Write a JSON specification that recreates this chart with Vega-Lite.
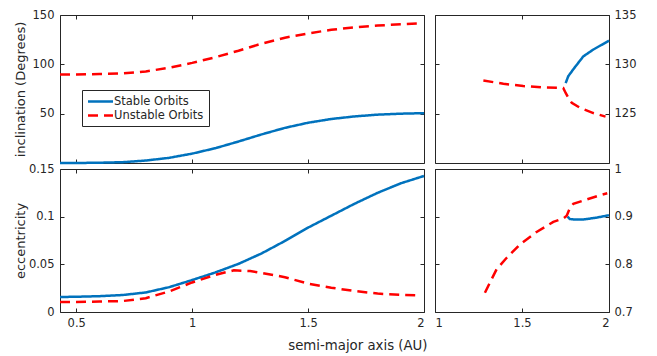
{
  "$schema": "https://vega.github.io/schema/vega-lite/v6.json",
  "padding": {"left": 13, "top": 8, "right": 5, "bottom": 5},
  "background": "white",
  "config": {
    "view": {"stroke": "#262626", "strokeWidth": 1},
    "font": "DejaVu Sans",
    "axis": {
      "grid": false, "domain": false,
      "tickColor": "#262626", "tickSize": -4, "tickWidth": 1,
      "labelFont": "DejaVu Sans", "labelFontSize": 11.5, "labelColor": "#262626",
      "titleFont": "DejaVu Sans", "titleFontSize": 13, "titleFontWeight": "normal", "titleColor": "#262626",
      "labelPadding": 9, "labelExpr": "'' + datum.value"
    }
  },
  "datasets": {
    "d": [
      {"p":"iL","t":"Stable Orbits","a":0.43,"v":0},
      {"p":"iL","t":"Stable Orbits","a":0.5,"v":0},
      {"p":"iL","t":"Stable Orbits","a":0.6,"v":0.3},
      {"p":"iL","t":"Stable Orbits","a":0.7,"v":0.8},
      {"p":"iL","t":"Stable Orbits","a":0.8,"v":2.5},
      {"p":"iL","t":"Stable Orbits","a":0.9,"v":5.2},
      {"p":"iL","t":"Stable Orbits","a":1.0,"v":9.5},
      {"p":"iL","t":"Stable Orbits","a":1.1,"v":15},
      {"p":"iL","t":"Stable Orbits","a":1.2,"v":21.8},
      {"p":"iL","t":"Stable Orbits","a":1.3,"v":29},
      {"p":"iL","t":"Stable Orbits","a":1.4,"v":35.6},
      {"p":"iL","t":"Stable Orbits","a":1.5,"v":40.8},
      {"p":"iL","t":"Stable Orbits","a":1.6,"v":44.6},
      {"p":"iL","t":"Stable Orbits","a":1.7,"v":47.2},
      {"p":"iL","t":"Stable Orbits","a":1.8,"v":49},
      {"p":"iL","t":"Stable Orbits","a":1.9,"v":50},
      {"p":"iL","t":"Stable Orbits","a":2.0,"v":50.5},
      {"p":"iL","t":"Unstable Orbits","a":0.43,"v":89.6},
      {"p":"iL","t":"Unstable Orbits","a":0.5,"v":89.8},
      {"p":"iL","t":"Unstable Orbits","a":0.6,"v":90.2},
      {"p":"iL","t":"Unstable Orbits","a":0.7,"v":90.9},
      {"p":"iL","t":"Unstable Orbits","a":0.8,"v":92.8},
      {"p":"iL","t":"Unstable Orbits","a":0.9,"v":96.5},
      {"p":"iL","t":"Unstable Orbits","a":1.0,"v":101.5},
      {"p":"iL","t":"Unstable Orbits","a":1.1,"v":107.2},
      {"p":"iL","t":"Unstable Orbits","a":1.2,"v":113.8},
      {"p":"iL","t":"Unstable Orbits","a":1.3,"v":121},
      {"p":"iL","t":"Unstable Orbits","a":1.4,"v":127},
      {"p":"iL","t":"Unstable Orbits","a":1.5,"v":131.3},
      {"p":"iL","t":"Unstable Orbits","a":1.6,"v":135},
      {"p":"iL","t":"Unstable Orbits","a":1.7,"v":137.6},
      {"p":"iL","t":"Unstable Orbits","a":1.8,"v":139.3},
      {"p":"iL","t":"Unstable Orbits","a":1.9,"v":140.6},
      {"p":"iL","t":"Unstable Orbits","a":1.98,"v":141.5},

      {"p":"iR","t":"Stable Orbits","a":1.751,"v":128.1},
      {"p":"iR","t":"Stable Orbits","a":1.766,"v":128.8},
      {"p":"iR","t":"Stable Orbits","a":1.795,"v":129.5},
      {"p":"iR","t":"Stable Orbits","a":1.852,"v":130.8},
      {"p":"iR","t":"Stable Orbits","a":1.91,"v":131.5},
      {"p":"iR","t":"Stable Orbits","a":1.95,"v":131.9},
      {"p":"iR","t":"Stable Orbits","a":2.0,"v":132.4},
      {"p":"iR","t":"Unstable Orbits","a":1.278,"v":128.36},
      {"p":"iR","t":"Unstable Orbits","a":1.393,"v":128.03},
      {"p":"iR","t":"Unstable Orbits","a":1.507,"v":127.8},
      {"p":"iR","t":"Unstable Orbits","a":1.622,"v":127.65},
      {"p":"iR","t":"Unstable Orbits","a":1.737,"v":127.6},
      {"p":"iR","t":"Unstable Orbits","a":1.751,"v":127.1},
      {"p":"iR","t":"Unstable Orbits","a":1.77,"v":126.5},
      {"p":"iR","t":"Unstable Orbits","a":1.786,"v":126.1},
      {"p":"iR","t":"Unstable Orbits","a":1.833,"v":125.6},
      {"p":"iR","t":"Unstable Orbits","a":1.91,"v":125.06},
      {"p":"iR","t":"Unstable Orbits","a":1.98,"v":124.7},

      {"p":"eL","t":"Stable Orbits","a":0.43,"v":0.0157},
      {"p":"eL","t":"Stable Orbits","a":0.5,"v":0.016},
      {"p":"eL","t":"Stable Orbits","a":0.6,"v":0.0166},
      {"p":"eL","t":"Stable Orbits","a":0.7,"v":0.0178},
      {"p":"eL","t":"Stable Orbits","a":0.8,"v":0.0205},
      {"p":"eL","t":"Stable Orbits","a":0.9,"v":0.026},
      {"p":"eL","t":"Stable Orbits","a":1.0,"v":0.0335},
      {"p":"eL","t":"Stable Orbits","a":1.1,"v":0.0415},
      {"p":"eL","t":"Stable Orbits","a":1.2,"v":0.0505},
      {"p":"eL","t":"Stable Orbits","a":1.3,"v":0.0615},
      {"p":"eL","t":"Stable Orbits","a":1.4,"v":0.0745},
      {"p":"eL","t":"Stable Orbits","a":1.5,"v":0.0885},
      {"p":"eL","t":"Stable Orbits","a":1.6,"v":0.101},
      {"p":"eL","t":"Stable Orbits","a":1.7,"v":0.1135},
      {"p":"eL","t":"Stable Orbits","a":1.8,"v":0.125},
      {"p":"eL","t":"Stable Orbits","a":1.9,"v":0.135},
      {"p":"eL","t":"Stable Orbits","a":2.0,"v":0.1427},
      {"p":"eL","t":"Unstable Orbits","a":0.43,"v":0.0105},
      {"p":"eL","t":"Unstable Orbits","a":0.5,"v":0.0105},
      {"p":"eL","t":"Unstable Orbits","a":0.6,"v":0.011},
      {"p":"eL","t":"Unstable Orbits","a":0.7,"v":0.0115},
      {"p":"eL","t":"Unstable Orbits","a":0.8,"v":0.0145},
      {"p":"eL","t":"Unstable Orbits","a":0.9,"v":0.0215},
      {"p":"eL","t":"Unstable Orbits","a":1.0,"v":0.031},
      {"p":"eL","t":"Unstable Orbits","a":1.1,"v":0.039},
      {"p":"eL","t":"Unstable Orbits","a":1.18,"v":0.0437},
      {"p":"eL","t":"Unstable Orbits","a":1.25,"v":0.043},
      {"p":"eL","t":"Unstable Orbits","a":1.3,"v":0.041},
      {"p":"eL","t":"Unstable Orbits","a":1.4,"v":0.0365},
      {"p":"eL","t":"Unstable Orbits","a":1.5,"v":0.0297},
      {"p":"eL","t":"Unstable Orbits","a":1.6,"v":0.0255},
      {"p":"eL","t":"Unstable Orbits","a":1.7,"v":0.022},
      {"p":"eL","t":"Unstable Orbits","a":1.8,"v":0.0193},
      {"p":"eL","t":"Unstable Orbits","a":1.9,"v":0.018},
      {"p":"eL","t":"Unstable Orbits","a":1.97,"v":0.0175},

      {"p":"eR","t":"Stable Orbits","a":1.762,"v":0.9},
      {"p":"eR","t":"Stable Orbits","a":1.775,"v":0.895},
      {"p":"eR","t":"Stable Orbits","a":1.8,"v":0.894},
      {"p":"eR","t":"Stable Orbits","a":1.852,"v":0.894},
      {"p":"eR","t":"Stable Orbits","a":1.929,"v":0.898},
      {"p":"eR","t":"Stable Orbits","a":2.0,"v":0.903},
      {"p":"eR","t":"Unstable Orbits","a":1.287,"v":0.7405},
      {"p":"eR","t":"Unstable Orbits","a":1.32,"v":0.765},
      {"p":"eR","t":"Unstable Orbits","a":1.354,"v":0.7895},
      {"p":"eR","t":"Unstable Orbits","a":1.412,"v":0.8138},
      {"p":"eR","t":"Unstable Orbits","a":1.489,"v":0.842},
      {"p":"eR","t":"Unstable Orbits","a":1.584,"v":0.868},
      {"p":"eR","t":"Unstable Orbits","a":1.68,"v":0.889},
      {"p":"eR","t":"Unstable Orbits","a":1.74,"v":0.897},
      {"p":"eR","t":"Unstable Orbits","a":1.757,"v":0.902},
      {"p":"eR","t":"Unstable Orbits","a":1.775,"v":0.918},
      {"p":"eR","t":"Unstable Orbits","a":1.795,"v":0.927},
      {"p":"eR","t":"Unstable Orbits","a":1.872,"v":0.936},
      {"p":"eR","t":"Unstable Orbits","a":1.94,"v":0.944},
      {"p":"eR","t":"Unstable Orbits","a":1.99,"v":0.949}
    ]
  },
  "data": {"name": "d"},
  "columns": 2,
  "spacing": {"row": 6, "column": 11},
  "bounds": "flush",
  "resolve": {"legend": {"color": "independent", "strokeDash": "independent"}},
  "concat": [
    {
      "width": 364, "height": 148,
      "transform": [{"filter": "datum.p == 'iL'"}],
      "layer": [
        {
          "mark": {"type": "line", "strokeWidth": 2.5},
          "encoding": {
            "x": {"field": "a", "type": "quantitative", "scale": {"domain": [0.43, 2], "nice": false, "zero": false},
                  "axis": {"orient": "bottom", "values": [0.5, 1, 1.5, 2], "labels": false, "title": null}},
            "y": {"field": "v", "type": "quantitative", "scale": {"domain": [0, 150], "nice": false},
                  "axis": {"orient": "left", "values": [50, 100, 150], "title": "inclination (Degrees)", "titleX": -33, "labelPadding": 10}},
            "color": {"field": "t", "type": "nominal",
                      "scale": {"domain": ["Stable Orbits", "Unstable Orbits"], "range": ["#0072BD", "#FF0000"]},
                      "legend": {"orient": "none", "legendX": 22, "legendY": 75, "title": null, "strokeColor": "#262626", "fillColor": "white", "padding": 5, "symbolType": "M-2.5,0H2.5", "symbolSize": 100, "symbolStrokeWidth": 2.5, "symbolOffset": 7, "labelFont": "DejaVu Sans", "labelFontSize": 11.5, "labelColor": "#262626", "labelOffset": 7, "rowPadding": 2}},
            "strokeDash": {"field": "t", "type": "nominal",
                      "scale": {"domain": ["Stable Orbits", "Unstable Orbits"], "range": [[1, 0], [10, 6]]},
                      "legend": {"orient": "none", "legendX": 22, "legendY": 75, "title": null, "strokeColor": "#262626", "fillColor": "white", "padding": 5, "symbolType": "M-2.5,0H2.5", "symbolSize": 100, "symbolStrokeWidth": 2.5, "symbolOffset": 7, "labelFont": "DejaVu Sans", "labelFontSize": 11.5, "labelColor": "#262626", "labelOffset": 7, "rowPadding": 2}}
          }
        },
        {
          "mark": {"type": "line", "opacity": 0},
          "encoding": {
            "x": {"field": "a", "type": "quantitative", "scale": {"domain": [0.43, 2], "nice": false, "zero": false},
                  "axis": {"orient": "top", "values": [0.5, 1, 1.5, 2], "labels": false, "title": null}},
            "y": {"field": "v", "type": "quantitative", "scale": {"domain": [0, 150], "nice": false},
                  "axis": {"orient": "right", "values": [50, 100, 150], "labels": false, "title": null}}
          }
        }
      ],
      "resolve": {"axis": {"x": "independent", "y": "independent"}}
    },
    {
      "width": 174, "height": 148,
      "transform": [{"filter": "datum.p == 'iR'"}],
      "layer": [
        {
          "mark": {"type": "line", "strokeWidth": 2.5},
          "encoding": {
            "x": {"field": "a", "type": "quantitative", "scale": {"domain": [1, 2], "nice": false, "zero": false},
                  "axis": {"orient": "bottom", "values": [1, 1.5, 2], "labels": false, "title": null}},
            "y": {"field": "v", "type": "quantitative", "scale": {"domain": [120, 135], "nice": false, "zero": false},
                  "axis": {"orient": "right", "values": [125, 130, 135], "title": null}},
            "color": {"field": "t", "type": "nominal",
                      "scale": {"domain": ["Stable Orbits", "Unstable Orbits"], "range": ["#0072BD", "#FF0000"]}, "legend": null},
            "strokeDash": {"field": "t", "type": "nominal",
                      "scale": {"domain": ["Stable Orbits", "Unstable Orbits"], "range": [[1, 0], [10, 6]]}, "legend": null}
          }
        },
        {
          "mark": {"type": "line", "opacity": 0},
          "encoding": {
            "x": {"field": "a", "type": "quantitative", "scale": {"domain": [1, 2], "nice": false, "zero": false},
                  "axis": {"orient": "top", "values": [1, 1.5, 2], "labels": false, "title": null}},
            "y": {"field": "v", "type": "quantitative", "scale": {"domain": [120, 135], "nice": false, "zero": false},
                  "axis": {"orient": "left", "values": [125, 130, 135], "labels": false, "title": null}}
          }
        }
      ],
      "resolve": {"axis": {"x": "independent", "y": "independent"}}
    },
    {
      "width": 364, "height": 143,
      "transform": [{"filter": "datum.p == 'eL'"}],
      "layer": [
        {
          "mark": {"type": "line", "strokeWidth": 2.5},
          "encoding": {
            "x": {"field": "a", "type": "quantitative", "scale": {"domain": [0.43, 2], "nice": false, "zero": false},
                  "axis": {"orient": "bottom", "values": [0.5, 1, 1.5, 2], "title": "semi-major axis (AU)", "titleX": 367, "titleAlign": "right", "titleFontSize": 13.3, "titlePadding": 10}},
            "y": {"field": "v", "type": "quantitative", "scale": {"domain": [0, 0.15], "nice": false},
                  "axis": {"orient": "left", "values": [0, 0.05, 0.1, 0.15], "title": "eccentricity", "titleX": -33, "labelPadding": 10}},
            "color": {"field": "t", "type": "nominal",
                      "scale": {"domain": ["Stable Orbits", "Unstable Orbits"], "range": ["#0072BD", "#FF0000"]}, "legend": null},
            "strokeDash": {"field": "t", "type": "nominal",
                      "scale": {"domain": ["Stable Orbits", "Unstable Orbits"], "range": [[1, 0], [10, 6]]}, "legend": null}
          }
        },
        {
          "mark": {"type": "line", "opacity": 0},
          "encoding": {
            "x": {"field": "a", "type": "quantitative", "scale": {"domain": [0.43, 2], "nice": false, "zero": false},
                  "axis": {"orient": "top", "values": [0.5, 1, 1.5, 2], "labels": false, "title": null}},
            "y": {"field": "v", "type": "quantitative", "scale": {"domain": [0, 0.15], "nice": false},
                  "axis": {"orient": "right", "values": [0, 0.05, 0.1, 0.15], "labels": false, "title": null}}
          }
        }
      ],
      "resolve": {"axis": {"x": "independent", "y": "independent"}}
    },
    {
      "width": 174, "height": 143,
      "transform": [{"filter": "datum.p == 'eR'"}],
      "layer": [
        {
          "mark": {"type": "line", "strokeWidth": 2.5},
          "encoding": {
            "x": {"field": "a", "type": "quantitative", "scale": {"domain": [1, 2], "nice": false, "zero": false},
                  "axis": {"orient": "bottom", "values": [1, 1.5, 2], "title": null}},
            "y": {"field": "v", "type": "quantitative", "scale": {"domain": [0.7, 1], "nice": false, "zero": false},
                  "axis": {"orient": "right", "values": [0.7, 0.8, 0.9, 1], "title": null}},
            "color": {"field": "t", "type": "nominal",
                      "scale": {"domain": ["Stable Orbits", "Unstable Orbits"], "range": ["#0072BD", "#FF0000"]}, "legend": null},
            "strokeDash": {"field": "t", "type": "nominal",
                      "scale": {"domain": ["Stable Orbits", "Unstable Orbits"], "range": [[1, 0], [10, 6]]}, "legend": null}
          }
        },
        {
          "mark": {"type": "line", "opacity": 0},
          "encoding": {
            "x": {"field": "a", "type": "quantitative", "scale": {"domain": [1, 2], "nice": false, "zero": false},
                  "axis": {"orient": "top", "values": [1, 1.5, 2], "labels": false, "title": null}},
            "y": {"field": "v", "type": "quantitative", "scale": {"domain": [0.7, 1], "nice": false, "zero": false},
                  "axis": {"orient": "left", "values": [0.7, 0.8, 0.9, 1], "labels": false, "title": null}}
          }
        }
      ],
      "resolve": {"axis": {"x": "independent", "y": "independent"}}
    }
  ]
}
